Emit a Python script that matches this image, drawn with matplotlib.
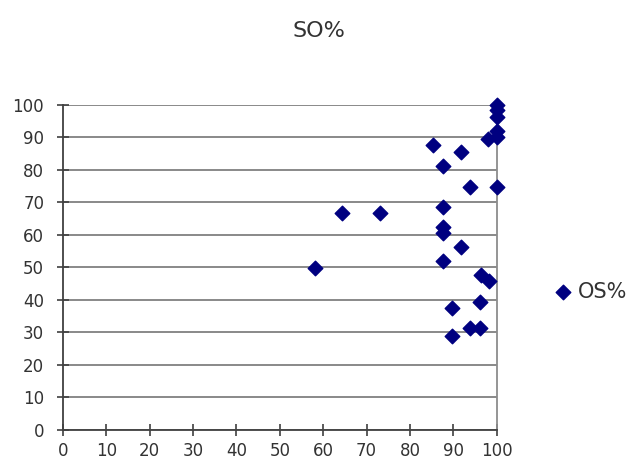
import numpy as np
import matplotlib.pyplot as plt

plt.rcParams['font.family'] = ['DejaVu Sans']

# OS% (x) vs SO% (y)
os_pct = [100, 100, 100, 100, 100, 98, 85.4, 91.8, 87.6, 93.9, 100,
          87.6, 64.4, 73.0, 87.6, 87.6, 91.8, 87.6, 58.2, 96.3, 98.2,
          96.1, 89.8, 93.9, 96.1, 89.8]
so_pct = [100, 98.3, 96.3, 92, 90, 89.5, 87.7, 85.4, 81.2, 74.9, 74.9,
          68.7, 66.7, 66.7, 62.6, 60.5, 56.2, 52, 49.7, 47.7, 45.9,
          39.5, 37.4, 31.3, 31.3, 28.9]
ticks = np.arange(0, 101, 10)

fig = plt.figure(figsize=(6.38, 4.63), dpi=100)
ax = fig.add_axes([0.0986, 0.0713, 0.680, 0.702])

ax.scatter(os_pct, so_pct, marker='D', s=55, color='#000080',
           edgecolors='#000080', zorder=3, clip_on=False, label='OS%')

ax.set_xlim(0, 100)
ax.set_ylim(0, 100)
ax.set_xticks(ticks)
ax.set_yticks(ticks)
ax.yaxis.grid(True, color='#808080', linewidth=1.3)
ax.set_axisbelow(True)

ax.spines['top'].set_visible(False)
ax.spines['right'].set_color('#8c8c8c')
ax.spines['right'].set_linewidth(1.3)
for s in ['left', 'bottom']:
    ax.spines[s].set_color('#404040')
    ax.spines[s].set_linewidth(1.3)

ax.tick_params(direction='inout', length=8, width=1.2, color='#404040',
               labelsize=12, labelcolor='#333333')
ax.tick_params(axis='x', pad=5)
ax.tick_params(axis='y', pad=9.5)

fig.text(0.5, 0.933, 'SO%', ha='center', va='center', fontsize=16,
         color='#333333')

ax.legend(loc='center left', bbox_to_anchor=(1.09, 0.425), frameon=False,
          fontsize=15, handlelength=0.8, handletextpad=0.3, markerscale=1.0,
          labelcolor='#333333')

fig.savefig('out.png', dpi=100)
